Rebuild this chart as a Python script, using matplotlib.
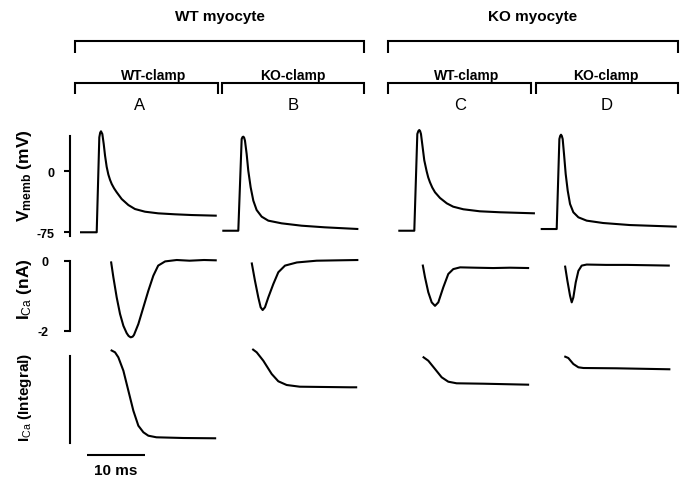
import matplotlib
matplotlib.use("Agg")
import matplotlib.pyplot as plt

plt.rcParams['font.family'] = ['Liberation Sans', 'DejaVu Sans']
plt.rcParams['mathtext.fontset'] = 'custom'
plt.rcParams['mathtext.rm'] = 'Liberation Sans'
plt.rcParams['mathtext.bf'] = 'Liberation Sans:bold'
plt.rcParams['mathtext.it'] = 'Liberation Sans:italic'

# ---------------- data ----------------
columns = ['A', 'B', 'C', 'D']
myocytes = ['WT myocyte', 'KO myocyte']
clamps = ['WT-clamp', 'KO-clamp', 'WT-clamp', 'KO-clamp']

# membrane potential (time in ms from upstroke, mV)
vm_A_t = [-2.88, 0.0, 0.45, 0.6, 0.74, 0.97, 1.21, 1.44, 1.72, 2.01, 2.3, 2.59, 3.0, 3.45, 4.31, 5.46, 6.6, 8.33, 10.6, 13.5, 16.4, 20.7]
vm_A_v = [-75.0, -75.0, 41.8, 47.5, 49.2, 45.9, 33.6, 19.2, 5.5, -4.0, -10.5, -15.6, -21.0, -25.8, -34.1, -41.5, -46.4, -49.7, -51.7, -52.9, -53.8, -54.6]
vm_B_t = [-2.76, 0.0, 0.58, 0.72, 0.86, 1.0, 1.15, 1.44, 1.72, 2.13, 2.59, 3.16, 4.03, 5.17, 7.47, 10.9, 14.9, 20.7]
vm_B_v = [-73.1, -73.1, 39.7, 42.0, 42.6, 41.5, 37.7, 21.3, 0.8, -19.7, -36.1, -47.6, -55.8, -60.7, -64.0, -66.9, -68.9, -71.0]
vm_C_t = [-2.76, 0.0, 0.52, 0.7, 0.86, 1.0, 1.15, 1.44, 1.72, 2.13, 2.4, 2.7, 3.1, 3.57, 4.43, 5.6, 6.7, 8.45, 11.3, 14.8, 20.8]
vm_C_v = [-73.1, -73.1, 45.9, 49.5, 50.8, 49.5, 45.9, 29.5, 13.5, 0.0, -7.5, -13.5, -20.0, -25.8, -32.8, -39.4, -43.5, -46.7, -49.2, -50.4, -51.7]
vm_D_t = [-2.76, 0.0, 0.46, 0.6, 0.74, 0.88, 1.03, 1.26, 1.55, 1.9, 2.3, 2.87, 3.74, 5.17, 8.0, 12.6, 20.7]
vm_D_v = [-71.0, -71.0, 39.7, 43.5, 45.0, 43.5, 39.7, 21.3, -3.3, -23.9, -40.2, -50.4, -56.6, -60.7, -63.6, -66.1, -68.1]

# calcium current (nA)
ica_A_t = [2.47, 2.87, 3.45, 4.02, 4.6, 5.17, 5.5, 5.86, 6.2, 6.43, 7.18, 8.05, 8.9, 9.76, 10.6, 11.8, 13.8, 16.0, 18.5, 20.7]
ica_A_i = [-0.02, -0.47, -1.05, -1.52, -1.86, -2.07, -2.15, -2.19, -2.17, -2.12, -1.81, -1.33, -0.86, -0.43, -0.14, -0.02, 0.02, 0.0, 0.02, 0.01]
ica_B_t = [2.3, 2.87, 3.45, 3.85, 4.2, 4.6, 5.17, 6.03, 6.9, 8.05, 10.1, 13.5, 17.0, 20.7]
ica_B_i = [-0.05, -0.57, -1.05, -1.33, -1.41, -1.33, -1.05, -0.67, -0.33, -0.14, -0.05, 0.0, 0.01, 0.02]
ica_C_t = [1.44, 1.84, 2.41, 3.0, 3.57, 4.14, 5.0, 5.86, 6.72, 7.9, 10.5, 13.6, 16.5, 19.8]
ica_C_i = [-0.11, -0.47, -0.90, -1.19, -1.29, -1.19, -0.76, -0.38, -0.24, -0.19, -0.20, -0.21, -0.20, -0.21]
ica_D_t = [1.43, 1.84, 2.3, 2.59, 2.87, 3.28, 3.74, 4.31, 5.17, 8.5, 12.1, 16.0, 19.5]
ica_D_i = [-0.14, -0.57, -1.0, -1.19, -1.05, -0.62, -0.29, -0.14, -0.11, -0.12, -0.12, -0.13, -0.14]

# integral of the calcium current (pC)
int_A_t = [2.41, 3.16, 3.73, 4.6, 5.46, 6.32, 7.18, 8.05, 8.9, 10.3, 14.9, 20.6]
int_A_q = [-0.1, -0.33, -0.83, -2.17, -4.17, -6.17, -7.67, -8.33, -8.67, -8.83, -8.9, -8.93]
int_B_t = [2.41, 3.17, 4.31, 5.76, 6.9, 8.34, 10.6, 19.3, 20.5]
int_B_q = [0.0, -0.33, -1.17, -2.5, -3.23, -3.6, -3.77, -3.83, -3.83]
int_C_t = [1.45, 2.41, 3.57, 4.72, 5.86, 7.3, 11.9, 19.8]
int_C_q = [-0.77, -1.17, -2.0, -2.83, -3.27, -3.43, -3.47, -3.57]
int_D_t = [1.31, 2.0, 2.87, 3.74, 4.6, 10.3, 19.6]
int_D_q = [-0.73, -0.9, -1.5, -1.83, -1.9, -1.93, -2.03]

vm_ticks = [0, -75]
ica_ticks = [0, -2]
scale_ms = 10

vm_data = {'A': (vm_A_t, vm_A_v), 'B': (vm_B_t, vm_B_v), 'C': (vm_C_t, vm_C_v), 'D': (vm_D_t, vm_D_v)}
ica_data = {'A': (ica_A_t, ica_A_i), 'B': (ica_B_t, ica_B_i), 'C': (ica_C_t, ica_C_i), 'D': (ica_D_t, ica_D_i)}
int_data = {'A': (int_A_t, int_A_q), 'B': (int_B_t, int_B_q), 'C': (int_C_t, int_C_q), 'D': (int_D_t, int_D_q)}

# ---------------- layout ----------------
W, H = 696, 485
fig = plt.figure(figsize=(W / 100, H / 100), dpi=100)
LW = 1.5

def px_axes(x0, y0, w, h):
    ax = fig.add_axes([x0 / W, 1 - (y0 + h) / H, w / W, h / H])
    ax.patch.set_alpha(0)
    return ax

px_per_ms = 5.8
upstroke_px = {'A': 96.7, 'B': 238.3, 'C': 414.3, 'D': 556.7}
t_min, t_max = -3.5, 21.5
# rows: (top px, bottom px, value at top, value at bottom)
rows = {
    'vm': (125, 240, (172.3 - 125) / 0.813, (172.3 - 240) / 0.813),
    'ica': (250, 345, (261.7 - 250) / 35, (261.7 - 345) / 35),
    'int': (345, 450, (350 - 345) / 10, (350 - 450) / 10),
}
row_data = {'vm': vm_data, 'ica': ica_data, 'int': int_data}
axis_px = 69.5

axes = {}
for rname, (top, bot, vtop, vbot) in rows.items():
    for c in columns:
        x0 = upstroke_px[c] + t_min * px_per_ms
        ax = px_axes(x0, top, (t_max - t_min) * px_per_ms, bot - top)
        ax.set_xlim(t_min, t_max)
        ax.set_ylim(vbot, vtop)
        t, y = row_data[rname][c]
        ax.plot(t, y, color='black', lw=LW, solid_capstyle='butt', solid_joinstyle='round')
        for s in ax.spines.values():
            s.set_visible(False)
        ax.set_xticks([])
        ax.set_yticks([])
        axes[(rname, c)] = ax

offset_pt = (upstroke_px['A'] + t_min * px_per_ms - axis_px) * 0.72

def left_scale(ax, lo, hi, ticks, pad):
    sp = ax.spines['left']
    sp.set_visible(True)
    sp.set_position(('outward', offset_pt))
    sp.set_bounds(lo, hi)
    sp.set_linewidth(LW)
    ax.set_yticks(ticks)
    ax.set_yticklabels([str(v) for v in ticks], fontsize=9, fontweight='bold')
    ax.tick_params(axis='y', direction='out', length=4, width=LW, pad=pad)

left_scale(axes[('vm', 'A')], (172.3 - 237) / 0.813, (172.3 - 137) / 0.813, vm_ticks, 7)
left_scale(axes[('ica', 'A')], -2, 0, ica_ticks, 11)
left_scale(axes[('int', 'A')], (350 - 444) / 10, (350 - 356.7) / 10, [], 0)

# y labels
fig.text(24 / W, 1 - 176 / H, r'$\mathbf{V_{memb}}$ (mV)', rotation=90, ha='center', va='center',
         fontsize=12.5, fontweight='bold')
fig.text(24.5 / W, 1 - 289 / H, r'$\mathbf{I}_{\mathrm{Ca}}$ (nA)', rotation=90, ha='center', va='center',
         fontsize=12.5, fontweight='bold')
fig.text(25 / W, 1 - 397.5 / H, r'$\mathbf{I}_{\mathrm{Ca}}$ (Integral)', rotation=90, ha='center', va='center',
         fontsize=11, fontweight='bold')

# time scale bar
sax = px_axes(upstroke_px['A'] + t_min * px_per_ms, 445, (t_max - t_min) * px_per_ms, 40)
sax.set_xlim(t_min, t_max)
sax.set_ylim(485, 445)
sax.axis('off')
t0 = (87 - upstroke_px['A']) / px_per_ms
sax.plot([t0, t0 + scale_ms], [455.7, 455.7], color='black', lw=LW, solid_capstyle='butt')
sax.text(t0 + scale_ms / 2, 471, f'{scale_ms} ms', ha='center', va='center', fontsize=11, fontweight='bold')

# header brackets and labels
oax = px_axes(0, 0, W, H)
oax.set_xlim(0, W)
oax.set_ylim(H, 0)
oax.axis('off')

def bracket(x0, x1, ytop, ybot):
    oax.plot([x0, x0, x1, x1], [ybot, ytop, ytop, ybot], color='black', lw=LW,
             solid_joinstyle='miter', solid_capstyle='butt')

big = [(74.7, 364.4), (388, 677.8)]
small = [(74.7, 217.8), (222.2, 364.4), (388, 531), (535.6, 677.8)]
for (x0, x1), name in zip(big, myocytes):
    bracket(x0, x1, 41.7, 54)
    oax.text((x0 + x1) / 2, 17, name, ha='center', va='center', fontsize=11, fontweight='bold')
clamp_cx = [153.8, 293.3, 466.7, 605.6]
letter_cx = [140, 293.3, 460, 606.7]
for (x0, x1), name, cx, lx, letter in zip(small, clamps, clamp_cx, letter_cx, columns):
    bracket(x0, x1, 84, 95)
    oax.text(cx, 75.8, name, ha='center', va='center', fontsize=10, fontweight='bold')
    oax.text(lx, 106, letter, ha='center', va='center', fontsize=12)

fig.savefig('out.png', dpi=100)
